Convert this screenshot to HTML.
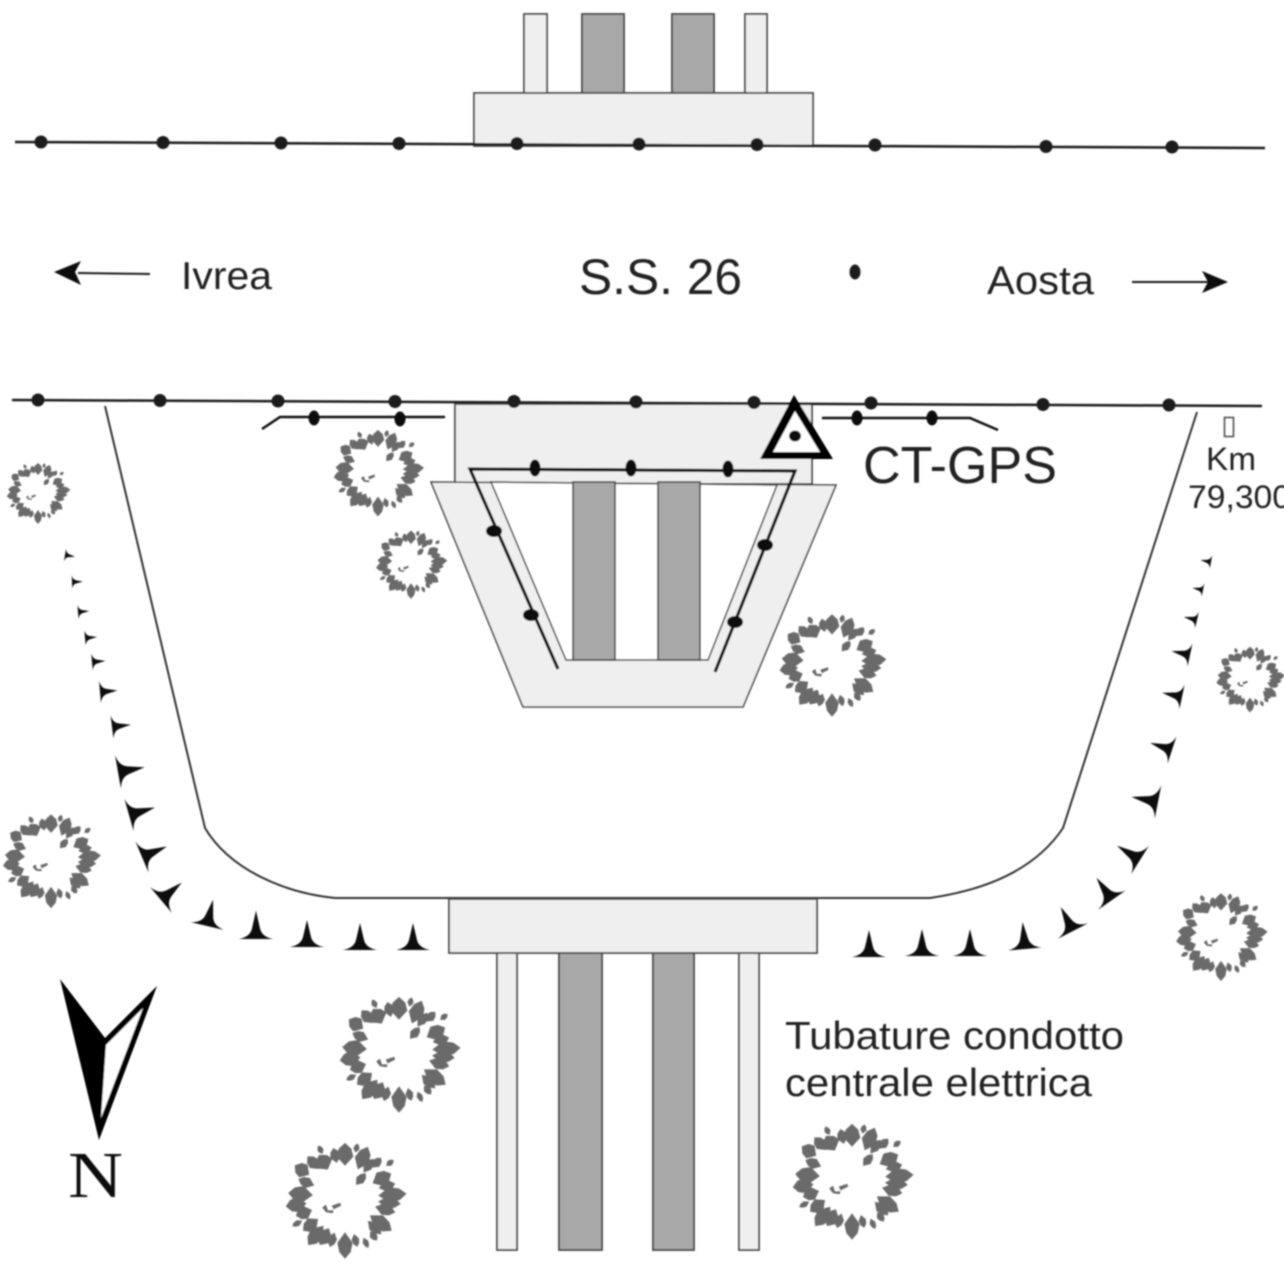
<!DOCTYPE html>
<html>
<head>
<meta charset="utf-8">
<style>
html,body{margin:0;padding:0;background:#fff;width:1284px;height:1278px;overflow:hidden}
svg{display:block}
text{font-family:"Liberation Sans",sans-serif;fill:#222}
</style>
</head>
<body>
<svg xmlns="http://www.w3.org/2000/svg" width="1284" height="1278" viewBox="0 0 1284 1278">
<defs>
<filter id="b" x="-2%" y="-2%" width="104%" height="104%"><feGaussianBlur stdDeviation="0.7"/></filter>
<path id="l" d="M0,-10L6,-5L8,2L0,10L-8,2L-6,-5Z"/>
<path id="s" d="M-17,0Q-6,-2 -4,-10L0,-27L4,-10Q6,-2 17,0Z" fill="#111"/>
<g id="t" fill="#6a6a6a">
<use href="#l" transform="rotate(0) translate(0,-46) scale(1.100,1.200)"/>
<use href="#l" transform="rotate(-13) translate(0,-46) scale(.7,.8)"/>
<use href="#l" transform="rotate(-31) translate(0,-44) scale(1.200,.9)"/>
<use href="#l" transform="rotate(-27) translate(0,-57) scale(.4,.5)"/>
<use href="#l" transform="rotate(13) translate(0,-54) scale(.4,.5)"/>
<use href="#l" transform="rotate(24) translate(0,-46) scale(1,1.300)"/>
<use href="#l" transform="rotate(36) translate(0,-42) scale(.6,.9)"/>
<use href="#l" transform="rotate(42) translate(0,-50) scale(.6,.7)"/>
<use href="#l" transform="rotate(52) translate(0,-60) scale(.4,.5)"/>
<use href="#l" transform="rotate(62) translate(0,-44) scale(1,1.100)"/>
<use href="#l" transform="rotate(74) translate(0,-46) scale(.7,.9)"/>
<use href="#l" transform="rotate(40) translate(0,-26) scale(.6,.8)"/>
<use href="#l" transform="rotate(86) translate(0,-50) scale(1,1.500)"/>
<use href="#l" transform="rotate(96) translate(0,-47) scale(.8,1.200)"/>
<use href="#l" transform="rotate(106) translate(0,-44) scale(.8,1.100)"/>
<use href="#l" transform="rotate(125) translate(0,-46) scale(1,1.400)"/>
<use href="#l" transform="rotate(135) translate(0,-44) scale(.7,1)"/>
<use href="#l" transform="rotate(143) translate(0,-50) scale(.5,.6)"/>
<use href="#l" transform="rotate(155) translate(0,-52) scale(.4,.6)"/>
<use href="#l" transform="rotate(166) translate(0,-46) scale(.5,.7)"/>
<use href="#l" transform="rotate(180) translate(0,-50) scale(1,1.400)"/>
<use href="#l" transform="rotate(197) translate(0,-46) scale(.6,.8)"/>
<use href="#l" transform="rotate(208) translate(0,-46) scale(1,1)"/>
<use href="#l" transform="rotate(218) translate(0,-50) scale(1,1.300)"/>
<use href="#l" transform="rotate(232) translate(0,-46) scale(.9,1)"/>
<use href="#l" transform="rotate(242) translate(0,-57) scale(.4,.6)"/>
<use href="#l" transform="rotate(250) translate(0,-46) scale(.9,.9)"/>
<use href="#l" transform="rotate(262) translate(0,-52) scale(1,1.100)"/>
<use href="#l" transform="rotate(275) translate(0,-47) scale(1.100,1.300)"/>
<use href="#l" transform="rotate(292) translate(0,-44) scale(.7,.9)"/>
<use href="#l" transform="rotate(303) translate(0,-54) scale(1,.9)"/>
<use href="#l" transform="rotate(318) translate(0,-50) scale(.8,.9)"/>
<path d="M-24,10L-20,7L-18,13L-12,13L-13,16L-20,15ZM-14,8L-5,5L-4,8L-12,12Z"/>
</g>
</defs>
<g filter="url(#b)">
<g stroke="#444" stroke-width="1.800">
<rect x="524" y="14" width="23" height="79" fill="#efefef"/>
<rect x="745" y="14" width="22" height="79" fill="#efefef"/>
<rect x="582" y="14" width="42" height="79" fill="#a8a8a8"/>
<rect x="672" y="14" width="42" height="79" fill="#a8a8a8"/>
<rect x="474" y="93" width="339" height="53" fill="#efefef"/>
</g>
<line x1="15" y1="142" x2="1265" y2="148" stroke="#1c1c1c" stroke-width="2.500"/>
<g fill="#1c1c1c">
<circle cx="41" cy="142" r="6.500"/><circle cx="163" cy="142.500" r="6.500"/><circle cx="281" cy="143" r="6.500"/><circle cx="399" cy="143.500" r="6.500"/><circle cx="517" cy="143.500" r="6.500"/><circle cx="639" cy="144" r="6.500"/><circle cx="757" cy="144.500" r="6.500"/><circle cx="875" cy="145" r="6.500"/><circle cx="1046" cy="146.500" r="6.500"/><circle cx="1172" cy="147" r="6.500"/>
</g>
<text x="181" y="289" font-size="39" textLength="91" lengthAdjust="spacingAndGlyphs">Ivrea</text>
<text x="579" y="294" font-size="50" textLength="163" lengthAdjust="spacingAndGlyphs">S.S. 26</text>
<text x="987" y="294" font-size="40" textLength="107" lengthAdjust="spacingAndGlyphs">Aosta</text>
<ellipse cx="855" cy="272" rx="5.500" ry="7.500" fill="#1c1c1c"/>
<line x1="150" y1="274" x2="78" y2="273" stroke="#1c1c1c" stroke-width="2"/>
<path d="M54,272L81,261L75,272L81,285Z" fill="#111"/>
<line x1="1132" y1="282" x2="1208" y2="282" stroke="#1c1c1c" stroke-width="2"/>
<path d="M1228,282L1202,271L1208,282L1202,293Z" fill="#111"/>
<path d="M105,406L205,828C230,870 285,893 335,898L930,898C985,890 1035,870 1063,828L1197,412" fill="none" stroke="#333" stroke-width="2"/>
<rect x="455" y="404" width="357" height="80" fill="#efefef" stroke="#444" stroke-width="1.800"/>
<path d="M431,482L836,485L743,707L523,707Z" fill="#efefef" stroke="#444" stroke-width="1.600"/>
<path d="M491,482L566,660L708,660L777,485Z" fill="#fff" stroke="#444" stroke-width="1.600"/>
<rect x="573" y="482" width="42" height="178" fill="#a8a8a8" stroke="#444" stroke-width="1.600"/>
<rect x="658" y="482" width="42" height="178" fill="#a8a8a8" stroke="#444" stroke-width="1.600"/>
<path d="M558,669L470,469L795,471L715,672" fill="none" stroke="#111" stroke-width="3.200"/>
<g fill="#0a0a0a">
<ellipse cx="535" cy="468" rx="5.500" ry="8.500"/><ellipse cx="631" cy="468" rx="5.500" ry="8.500"/><ellipse cx="728" cy="469" rx="5.500" ry="8.500"/>
<ellipse cx="494" cy="531" rx="8" ry="6"/><ellipse cx="531" cy="615" rx="8" ry="6"/><ellipse cx="765" cy="545" rx="8" ry="6"/><ellipse cx="735" cy="622" rx="8" ry="6"/>
</g>
<line x1="12" y1="400" x2="1262" y2="406" stroke="#1c1c1c" stroke-width="2.500"/>
<g fill="#1c1c1c">
<circle cx="38" cy="400" r="6.500"/><circle cx="160" cy="400.500" r="6.500"/><circle cx="278" cy="401" r="6.500"/><circle cx="395" cy="401.500" r="6.500"/><circle cx="514" cy="401.500" r="6.500"/><circle cx="636" cy="402" r="6.500"/><circle cx="754" cy="402.500" r="6.500"/><circle cx="871" cy="403" r="6.500"/><circle cx="1043" cy="404.500" r="6.500"/><circle cx="1169" cy="405" r="6.500"/>
</g>
<path d="M262,429L280,417L445,417" fill="none" stroke="#111" stroke-width="2.500"/>
<path d="M822,418L970,418L998,430" fill="none" stroke="#111" stroke-width="2.500"/>
<g fill="#0a0a0a">
<ellipse cx="314" cy="418" rx="5.500" ry="7.500"/><ellipse cx="400" cy="419" rx="5.500" ry="7.500"/><ellipse cx="857" cy="418" rx="5.500" ry="7.500"/><ellipse cx="932" cy="418" rx="5.500" ry="7.500"/>
</g>
<path d="M794,395L833,459L760,459Z" fill="#000"/>
<path d="M795,411L820,452L773,452Z" fill="#fff"/>
<ellipse cx="795" cy="436" rx="6" ry="5.500" fill="#111"/>
<text x="863" y="483" font-size="52" textLength="194" lengthAdjust="spacingAndGlyphs">CT-GPS</text>
<rect x="1224.500" y="417.500" width="9" height="19" fill="none" stroke="#444" stroke-width="1.500"/>
<text x="1206" y="470" font-size="32" textLength="50" lengthAdjust="spacingAndGlyphs">Km</text>
<text x="1188" y="508" font-size="32" textLength="103" lengthAdjust="spacingAndGlyphs">79,300</text>
<g stroke="#444" stroke-width="1.800">
<rect x="497" y="953" width="20" height="297" fill="#efefef"/>
<rect x="739" y="953" width="20" height="297" fill="#efefef"/>
<rect x="559" y="953" width="43" height="297" fill="#a8a8a8"/>
<rect x="653" y="953" width="41" height="297" fill="#a8a8a8"/>
<rect x="449" y="899" width="368" height="54" fill="#efefef"/>
</g>
<text x="785" y="1049" font-size="39" textLength="339" lengthAdjust="spacingAndGlyphs">Tubature condotto</text>
<text x="785" y="1096" font-size="39" textLength="307" lengthAdjust="spacingAndGlyphs">centrale elettrica</text>
<use href="#s" transform="translate(413,950)"/>
<use href="#s" transform="translate(360,950)"/>
<use href="#s" transform="translate(307,947)"/>
<use href="#s" transform="translate(256,939) scale(1,1.050)"/>
<use href="#s" transform="translate(207,926) rotate(13)"/>
<use href="#s" transform="translate(161,900) rotate(50)"/>
<use href="#s" transform="translate(142,857) rotate(67)"/>
<use href="#s" transform="translate(129,815) rotate(74)"/>
<use href="#s" transform="translate(118,772) rotate(80)"/>
<use href="#s" transform="translate(112,727) rotate(83) scale(.7)"/>
<use href="#s" transform="translate(100,692) rotate(85) scale(.65)"/>
<use href="#s" transform="translate(92,662) rotate(85) scale(.5)"/>
<use href="#s" transform="translate(85,638) rotate(85) scale(.45)"/>
<use href="#s" transform="translate(78,612) rotate(85) scale(.42)"/>
<use href="#s" transform="translate(72,582) rotate(88) scale(.4)"/>
<use href="#s" transform="translate(65,555) rotate(100) scale(.38)"/>
<use href="#s" transform="translate(869,957)"/>
<use href="#s" transform="translate(922,956)"/>
<use href="#s" transform="translate(970,956)"/>
<use href="#s" transform="translate(1025,949) rotate(-5)"/>
<use href="#s" transform="translate(1073,931) rotate(-27)"/>
<use href="#s" transform="translate(1112,900) rotate(-35)"/>
<use href="#s" transform="translate(1140,860) rotate(-58)"/>
<use href="#s" transform="translate(1158,802) rotate(-79)"/>
<use href="#s" transform="translate(1172,750) rotate(-72) scale(.85)"/>
<use href="#s" transform="translate(1182,697) rotate(-78) scale(.75)"/>
<use href="#s" transform="translate(1190,655) rotate(-78) scale(.7)"/>
<use href="#s" transform="translate(1197,620) rotate(-77) scale(.5)"/>
<use href="#s" transform="translate(1203,590) rotate(-79) scale(.4)"/>
<use href="#s" transform="translate(1211,562) rotate(-80) scale(.4)"/>
<path d="M60,979L105,1038L157,986L99,1140Z" fill="#000"/>
<path d="M143,1008L106,1045L101,1118Z" fill="#fff"/>
<text x="68" y="1197" font-size="66" textLength="55" lengthAdjust="spacingAndGlyphs" style="font-family:'Liberation Serif',serif;fill:#111">N</text>
<use href="#t" transform="translate(38,492) scale(.5)"/>
<use href="#t" transform="translate(378,471) scale(.71)"/>
<use href="#t" transform="translate(411,563) scale(.56)"/>
<use href="#t" transform="translate(832,663) scale(.84)"/>
<use href="#t" transform="translate(1250,678) scale(.54)"/>
<use href="#t" transform="translate(51,859) scale(.77)"/>
<use href="#t" transform="translate(1221,935) scale(.72)"/>
<use href="#t" transform="translate(399,1052) scale(.95)"/>
<use href="#t" transform="translate(345,1198) scale(.95)"/>
<use href="#t" transform="translate(852,1179) scale(.95)"/>
</g>
</svg>
</body>
</html>
